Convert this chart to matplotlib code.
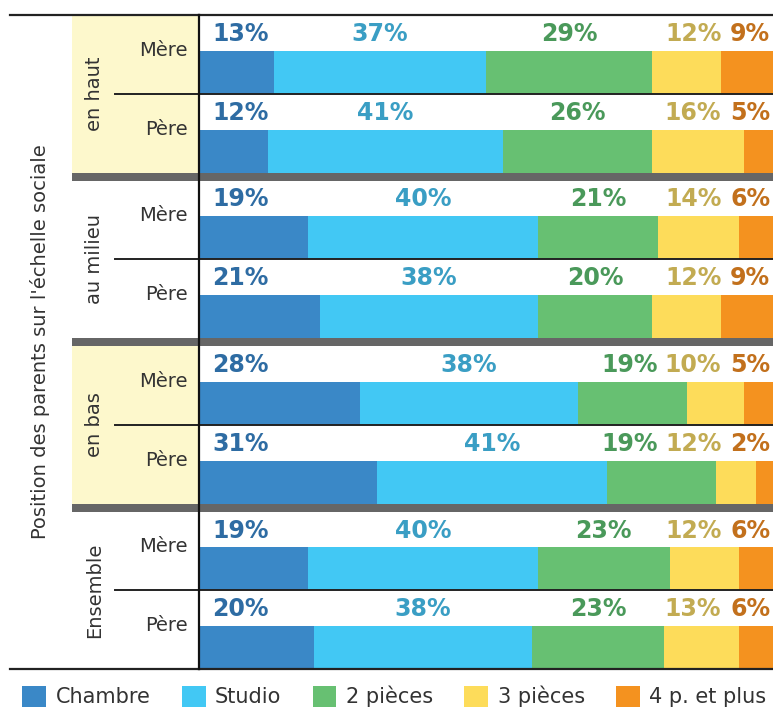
import matplotlib.pyplot as plt
from matplotlib.patches import Patch

groups = ["en haut", "au milieu", "en bas", "Ensemble"]
parents = ["Mère", "Père"]
categories = ["Chambre", "Studio", "2 pièces", "3 pièces", "4 p. et plus"]

# percentages printed above each bar
printed = [
    [13, 37, 29, 12, 9],
    [12, 41, 26, 16, 5],
    [19, 40, 21, 14, 6],
    [21, 38, 20, 12, 9],
    [28, 38, 19, 10, 5],
    [31, 41, 19, 12, 2],
    [19, 40, 23, 12, 6],
    [20, 38, 23, 13, 6],
]
# segment widths as drawn (en bas / Père bar does not match its printed labels)
drawn = [
    [13, 37, 29, 12, 9],
    [12, 41, 26, 16, 5],
    [19, 40, 21, 14, 6],
    [21, 38, 20, 12, 9],
    [28, 38, 19, 10, 5],
    [31, 40, 19, 7, 3],
    [19, 40, 23, 12, 6],
    [20, 38, 23, 13, 6],
]

BAR_COLORS = ["#3a88c7", "#42c8f4", "#67c072", "#fddc5a", "#f4921f"]
TXT_COLORS = ["#2e6ca3", "#3a9ec4", "#4a995a", "#c2ab52", "#c2701c"]
YELLOW_BG = "#fdf8cc"
SEP_GREY = "#666666"

ROW_H = 78.75   # height of one row
GAP = 8         # thick separator between groups
BAR_H = 43
TOTAL = 8 * ROW_H + 3 * GAP

FIG_W, FIG_H = 773, 712
TOP_PX, BOT_PX = 15, 669
SPLIT_PX = 199


def row_top(i):
    return i * ROW_H + (i // 2) * GAP


fig = plt.figure(figsize=(FIG_W / 100, FIG_H / 100), dpi=100)
ax_b = FIG_H - BOT_PX
ax_h = BOT_PX - TOP_PX
left = fig.add_axes([10 / FIG_W, ax_b / FIG_H, (SPLIT_PX - 10) / FIG_W, ax_h / FIG_H])
main = fig.add_axes([SPLIT_PX / FIG_W, ax_b / FIG_H, (FIG_W - SPLIT_PX) / FIG_W, ax_h / FIG_H])

for a in (left, main):
    a.set_ylim(TOTAL, 0)
    a.set_xticks([])
    a.set_yticks([])
    a.spines["right"].set_visible(False)
    for s in ("top", "bottom"):
        a.spines[s].set_color("#222222")
        a.spines[s].set_linewidth(1.6)
left.set_xlim(10, SPLIT_PX)
left.spines["left"].set_visible(False)
main.set_xlim(0, 100)
main.spines["left"].set_color("#111111")
main.spines["left"].set_linewidth(1.6)
main.spines["left"].set_zorder(5)

# --- left label column ---
for g, name in enumerate(groups):
    top = row_top(2 * g)
    bottom = top + 2 * ROW_H
    if g in (0, 2):
        left.fill_between([72, SPLIT_PX], top, bottom, color=YELLOW_BG, lw=0)
    left.text(95, (top + bottom) / 2, name, rotation=90, ha="center",
              va="center", fontsize=14, color="#333333")
    if g < len(groups) - 1:
        left.fill_between([72, SPLIT_PX], bottom, bottom + GAP, color=SEP_GREY, lw=0)
        main.axhspan(bottom, bottom + GAP, color=SEP_GREY, lw=0)
    # thin line between Mère and Père
    mid = top + ROW_H
    left.plot([115, SPLIT_PX], [mid, mid], color="#222222", lw=1.4)
    main.axhline(mid, color="#222222", lw=1.4)
    for m, p in enumerate(parents):
        rt = top + m * ROW_H
        left.text(188, rt + ROW_H * 0.45, p, ha="right", va="center",
                  fontsize=14, color="#333333")

left.text(40, TOTAL / 2, "Position des parents sur l'échelle sociale",
          rotation=90, ha="center", va="center", fontsize=14, color="#333333")

# --- stacked bars ---
for i in range(len(drawn)):
    top = row_top(i)
    yc = top + ROW_H - BAR_H / 2
    ylab = top + 19
    start = 0
    for k, (w, lab) in enumerate(zip(drawn[i], printed[i])):
        main.barh(yc, w, left=start, height=BAR_H, color=BAR_COLORS[k], lw=0)
        if k == 0:
            x, ha = 2.3, "left"
        elif k == 1:
            x, ha = start + w / 2, "center"
        elif k == 2:
            # keep clear of the 3 pièces label
            x, ha = min(start + w / 2, 75), "center"
        elif k == 3:
            x, ha = 91, "right"
        else:
            x, ha = 99.5, "right"
        main.text(x, ylab, f"{lab}%", ha=ha, va="center", fontsize=17,
                  fontweight="bold", color=TXT_COLORS[k])
        start += w

handles = [Patch(facecolor=c, edgecolor="none") for c in BAR_COLORS]
fig.legend(handles, categories, loc="lower center", bbox_to_anchor=(0.51, -0.02),
           ncol=5, frameon=False, fontsize=15, handlelength=1.15,
           handleheight=1.15, handletextpad=0.45, columnspacing=1.5,
           labelcolor="#333333")

fig.savefig("out.png", dpi=100)
